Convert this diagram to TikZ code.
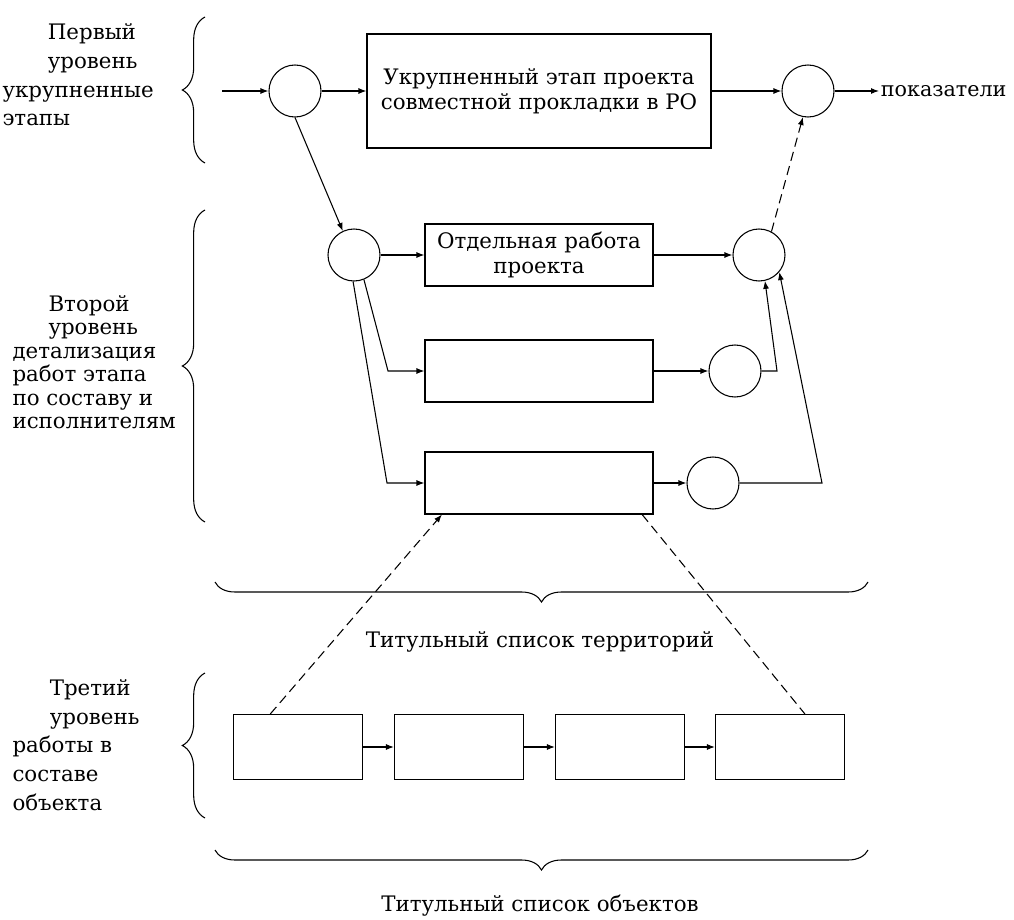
\documentclass[tikz,border=0pt]{standalone}
\usepackage{fontspec}
\setmainfont{DejaVu Serif}
\usetikzlibrary{arrows.meta,decorations.pathreplacing}

\begin{document}
\begin{tikzpicture}[x=0.75pt,y=-0.75pt,>={Latex[length=6pt,width=4.5pt]},line width=0.8pt,font=\fontsize{16}{19}\selectfont]
\tikzstyle{stage}=[rectangle, draw, inner sep=0pt, align=center]
\tikzstyle{work}=[rectangle, draw, minimum width=171pt, minimum height=46.5pt, inner sep=0pt, align=center]
\tikzstyle{objbox}=[rectangle, draw, minimum width=96.75pt, minimum height=48.75pt]
\tikzstyle{event}=[circle, draw, minimum size=39pt, inner sep=0pt]
\tikzstyle{lvltext}=[align=left, anchor=west, inner sep=0pt, font=\fontsize{16}{21.5}\selectfont]
\tikzstyle{bracket}=[decorate, decoration={brace, amplitude=17pt}]
\tikzstyle{hint}=[dash pattern=on 7pt off 4pt]
\useasboundingbox (0,0) rectangle (1014,920);

% first level
\coordinate (in) at (222,91);
\node[event] (A) at (295,91) {};
\node[stage, minimum width=258pt, minimum height=85.5pt] (big) at (539,91) {Укрупненный этап проекта\\совместной прокладки в РО};
\node[event] (B) at (808,91) {};
\node[anchor=west, inner sep=1pt, font=\fontsize{15.5}{19}\selectfont] (out) at (879,91) {показатели};

% second level
\node[event] (C) at (354,255) {};
\node[work] (w1) at (539,255) {Отдельная работа\\проекта};
\node[work] (w2) at (539,371) {};
\node[work] (w3) at (539,483) {};
\node[event] (D) at (759,255) {};
\node[event] (E) at (735,371) {};
\node[event] (F) at (713,483) {};
\coordinate (c1) at (388,371);
\coordinate (c2) at (387,483);
\coordinate (c3) at (777,371);
\coordinate (c4) at (822,483);

% third level
\node[objbox] (o1) at (298,747) {};
\node[objbox] (o2) at (459,747) {};
\node[objbox] (o3) at (620,747) {};
\node[objbox] (o4) at (780,747) {};

% levels
\node[lvltext] (L1) at (2,75) {\hspace*{34pt}Первый\\\hspace*{34pt}уровень\\укрупненные\\этапы};
\node[lvltext, font=\fontsize{16}{17.6}\selectfont] (L2) at (12,362) {\hspace*{27pt}Второй\\\hspace*{27pt}уровень\\детализация\\работ этапа\\по составу и\\исполнителям};
\node[lvltext] (L3) at (12,745) {\hspace*{28pt}Третий\\\hspace*{28pt}уровень\\работы в\\составе\\объекта};
\node (T1) at (540,642) {Титульный список территорий};
\node (T2) at (540,906) {Титульный список объектов};

\draw[bracket] (205,163) -- (205,17);
\draw[bracket] (205,522) -- (205,210);
\draw[bracket] (205,818) -- (205,673);
\draw[bracket, decoration={amplitude=15pt}] (868,582) -- (215,582);
\draw[bracket, decoration={amplitude=15pt}] (868,850) -- (215,850);

\draw[->] (in) -- (A);
\draw[->] (A) -- (big);
\draw[->] (big) -- (B);
\draw[->] (B) -- (out);
\draw[->] (A.-90) -- (C.115);
\draw[->] (C) -- (w1);
\draw[->] (w1) -- (D);
\draw[->] (C.-68) -- (c1) -- (w2);
\draw[->] (C.-92) -- (c2) -- (w3);
\draw[->] (w2) -- (E);
\draw[->] (w3) -- (F);
\draw[->] (E) -- (c3) -- (D.-77);
\draw[->] (F) -- (c4) -- (D.-40);
\draw[->, hint] (D.62) -- (B.-101);
\draw[->, hint] (o1.130) -- (w3.-162);
\draw[hint] (w3.-17) -- (o4.53);
\draw[->] (o1) -- (o2);
\draw[->] (o2) -- (o3);
\draw[->] (o3) -- (o4);
\end{tikzpicture}
\end{document}
